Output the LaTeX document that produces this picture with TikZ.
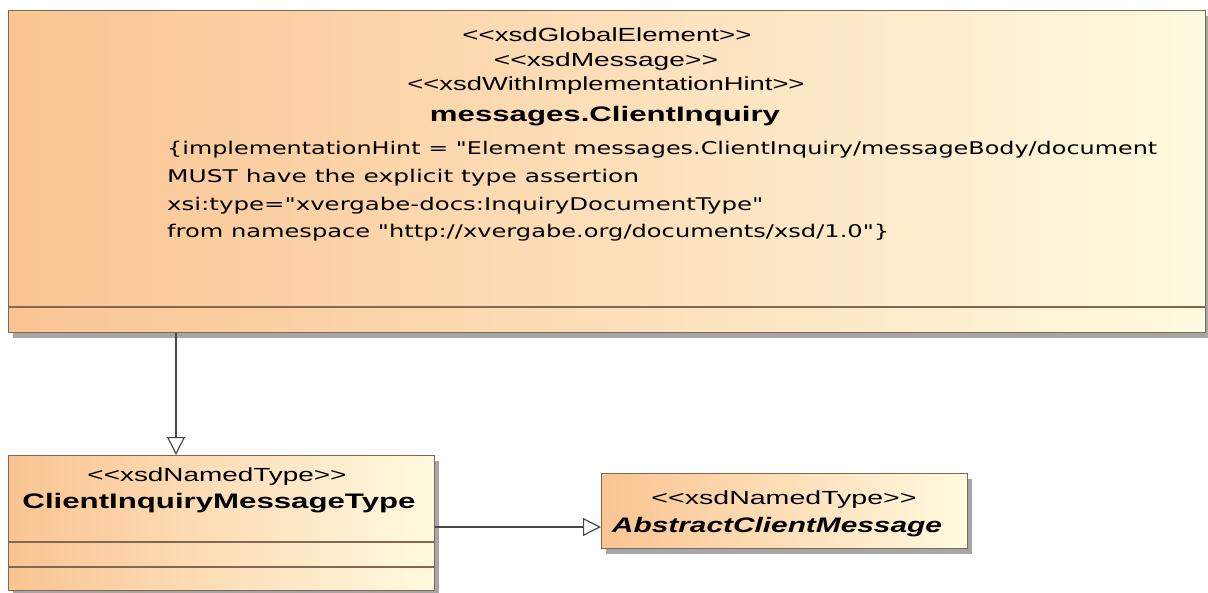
\documentclass[tikz,border=0pt]{standalone}
\usepackage{fontspec}
\setmainfont{Liberation Sans}[Ligatures=TeXOff]
\newfontfamily\hintfamily{DejaVu Sans}[Ligatures=TeXOff]
\usepackage{graphicx}
\definecolor{BoxLeft}{RGB}{250,196,146}
\definecolor{BoxRight}{RGB}{255,250,224}
\definecolor{BoxLine}{RGB}{128,104,82}
\definecolor{WireGray}{RGB}{72,72,72}
\usetikzlibrary{positioning,arrows.meta,shadows}
% stretch a text to a given width, keep its height
\newcommand{\fitw}[2]{\resizebox{#1pt}{\height}{#2}}

\begin{document}
\begin{tikzpicture}[x=1pt,y=-1pt,
      umlbox/.style={draw=BoxLine,line width=1.2pt,left color=BoxLeft,right color=BoxRight,
                     anchor=north west,inner sep=0pt,
                     drop shadow={shadow xshift=4pt,shadow yshift=-5pt,fill=black,opacity=.35}},
      sep/.style={draw=BoxLine,line width=1.2pt},
      stereo/.style={anchor=base,inner sep=0pt,font=\fontsize{19}{19}\selectfont},
      cname/.style={anchor=base,inner sep=0pt,font=\fontsize{21}{21}\selectfont\bfseries},
      hint/.style={anchor=base west,inner sep=0pt,font=\fontsize{17.5}{17.5}\selectfont\hintfamily},
      gen/.style={draw=WireGray,line width=1.2pt,-{Triangle[open,length=18pt,width=18pt,line width=1.2pt]}}]
    \useasboundingbox (0,0) rectangle (1208,592);
    % element box
    \node[umlbox,minimum width=1197pt,minimum height=322pt] (inquiry) at (8,10) {};
    \draw[sep] (inquiry.west |- 0,307) -- (inquiry.east |- 0,307);
    \node[stereo] (st1) at (607,41)  {\fitw{289}{<<xsdGlobalElement>>}};
    \node[stereo] (st2) at (606,66)  {\fitw{224}{<<xsdMessage>>}};
    \node[stereo] (st3) at (606,90)  {\fitw{397}{<<xsdWithImplementationHint>>}};
    \node[cname]  (inqname) at (605,121) {\fitw{350}{messages.ClientInquiry}};
    \node[hint] (h1) at (167,154) {\fitw{990}{\{implementationHint = "Element messages.ClientInquiry/messageBody/document}};
    \node[hint] (h2) at (167,182) {\fitw{472}{MUST have the explicit type assertion}};
    \node[hint] (h3) at (167,210) {\fitw{596}{xsi:type="xvergabe-docs:InquiryDocumentType"}};
    \node[hint] (h4) at (167,237) {\fitw{722}{from namespace "http://xvergabe.org/documents/xsd/1.0"\}}};
    % message type box
    \node[umlbox,minimum width=426pt,minimum height=135pt] (cimt) at (8,455) {};
    \draw[sep] (cimt.west |- 0,542) -- (cimt.east |- 0,542);
    \draw[sep] (cimt.west |- 0,567) -- (cimt.east |- 0,567);
    \node[stereo] (st4) at (217,481) {\fitw{259}{<<xsdNamedType>>}};
    \node[cname]  (cimtname) at (219,508) {\fitw{393}{ClientInquiryMessageType}};
    % abstract message box
    \node[umlbox,minimum width=366pt,minimum height=75pt] (acm) at (601,473) {};
    \node[stereo] (st5) at (784,504) {\fitw{265}{<<xsdNamedType>>}};
    \node[cname]  (acmname) at (777,532) {\fitw{330}{\itshape AbstractClientMessage}};
    % generalizations
    \draw[gen] (inquiry.south -| 176,0) -- (cimt.north -| 176,0);
    \draw[gen] (cimt.east |- 0,527) -- (acm.west |- 0,527);
  \end{tikzpicture}
\end{document}
